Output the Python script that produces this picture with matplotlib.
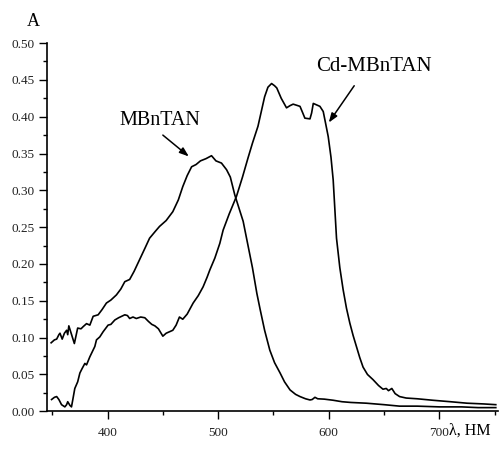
import matplotlib
matplotlib.use("Agg")
import matplotlib.pyplot as plt
from matplotlib.ticker import MultipleLocator, FormatStrFormatter

plt.rcParams['font.family'] = ['Liberation Serif', 'DejaVu Serif']

# MBnTAN spectrum
mb_x = [349, 352, 354, 356, 357, 359, 361, 363, 364, 365, 367.5, 370, 373, 376, 378, 381, 384, 387,
        391.5, 395, 399, 403, 408, 412, 415.6, 420, 424, 429, 434, 438, 443, 447, 453, 459, 464, 468,
        472, 476, 480, 484, 489, 494, 498, 503, 507.6, 511, 515, 519, 522.6, 527, 531, 535, 538, 542,
        546.7, 551, 556, 560, 565, 570, 574, 579, 583, 585, 587.5, 590, 596, 604, 612, 620, 634, 650,
        664, 680, 700, 720, 735, 751]
mb_y = [0.093, 0.097, 0.098, 0.104, 0.106, 0.098, 0.106, 0.110, 0.104, 0.116, 0.104, 0.092, 0.113,
        0.112, 0.115, 0.119, 0.117, 0.129, 0.131, 0.138, 0.147, 0.151, 0.158, 0.166, 0.176, 0.179,
        0.190, 0.206, 0.222, 0.235, 0.244, 0.251, 0.259, 0.271, 0.287, 0.305, 0.320, 0.332, 0.335,
        0.340, 0.343, 0.347, 0.340, 0.337, 0.328, 0.318, 0.294, 0.275, 0.258, 0.225, 0.195, 0.160,
        0.138, 0.110, 0.083, 0.066, 0.052, 0.040, 0.029, 0.023, 0.020, 0.017, 0.0154, 0.016, 0.019,
        0.017, 0.0165, 0.015, 0.013, 0.012, 0.011, 0.009, 0.007, 0.007, 0.006, 0.006, 0.005, 0.005]

# Cd-MBnTAN spectrum
cd_x = [349.4, 352, 354, 356, 358.4, 361.4, 363, 364, 366, 367.4, 368.5, 370.4, 373, 375, 377, 379.5,
        381, 384, 388.5, 390, 393, 396, 400.5, 403, 406.6, 410, 415.6, 418, 420, 423, 426, 430, 433.7,
        437, 440, 442.8, 446, 450, 453, 456, 459, 462, 465, 468, 472, 477.4, 482, 486.4, 490, 492.5,
        497, 501.5, 504.5, 510, 516.6, 522, 527, 531, 536, 539, 542, 545, 548.3, 551, 553, 557, 561.8,
        565, 567.8, 572, 574, 576.5, 578.4, 583, 584.5, 586, 589, 592, 595, 597, 599.5, 602, 604, 607,
        610, 613, 616, 619, 622, 625, 628, 631, 635, 640, 645, 649, 652, 654, 657, 660, 664, 670, 680,
        694, 710, 725, 740, 751]
cd_y = [0.016, 0.019, 0.020, 0.016, 0.009, 0.006, 0.009, 0.013, 0.008, 0.006, 0.015, 0.031, 0.040,
        0.052, 0.058, 0.065, 0.063, 0.074, 0.088, 0.097, 0.101, 0.108, 0.117, 0.118, 0.124, 0.127,
        0.131, 0.130, 0.126, 0.128, 0.126, 0.128, 0.127, 0.122, 0.118, 0.116, 0.112, 0.102, 0.106,
        0.108, 0.110, 0.117, 0.128, 0.125, 0.132, 0.147, 0.157, 0.169, 0.182, 0.192, 0.208, 0.228,
        0.246, 0.268, 0.292, 0.318, 0.344, 0.364, 0.387, 0.407, 0.427, 0.440, 0.445, 0.442, 0.439,
        0.425, 0.412, 0.415, 0.417, 0.415, 0.414, 0.405, 0.398, 0.397, 0.405, 0.418, 0.416, 0.414,
        0.407, 0.392, 0.373, 0.345, 0.314, 0.235, 0.195, 0.165, 0.140, 0.120, 0.103, 0.088, 0.073,
        0.060, 0.050, 0.043, 0.035, 0.030, 0.031, 0.028, 0.031, 0.024, 0.020, 0.018, 0.017, 0.015,
        0.013, 0.011, 0.010, 0.009]

labels = ["MBnTAN", "Cd-MBnTAN"]

fig = plt.figure(figsize=(4.99, 4.5), dpi=100)
ax = fig.add_axes([0.0936, 0.086, 0.9044, 0.8184])

ax.plot(mb_x, mb_y, color='black', lw=1.2)
ax.plot(cd_x, cd_y, color='black', lw=1.2)

ax.set_xlim(345, 753)
ax.set_ylim(0, 0.5)
ax.spines['top'].set_visible(False)
ax.spines['right'].set_visible(False)
for s in ('left', 'bottom'):
    ax.spines[s].set_linewidth(1.2)

ax.xaxis.set_major_locator(MultipleLocator(100))
ax.xaxis.set_minor_locator(MultipleLocator(50))
ax.yaxis.set_major_locator(MultipleLocator(0.05))
ax.yaxis.set_minor_locator(MultipleLocator(0.025))
ax.yaxis.set_major_formatter(FormatStrFormatter('%.2f'))
ax.tick_params(which='major', direction='out', length=5.5, width=1, labelsize=9.5, pad=3)
ax.tick_params(which='minor', direction='out', length=3, width=1)
ax.tick_params(axis='x', pad=6)
for t in ax.get_xticklabels() + ax.get_yticklabels():
    t.set_color('#222222')

# labels and arrows
arrow = dict(arrowstyle='-|>,head_length=0.55,head_width=0.2', color='black', lw=1.1,
             shrinkA=0, shrinkB=0)
ax.text(447, 0.395, labels[0], ha='center', va='center', fontsize=14.5)
ax.annotate('', xy=(473.5, 0.346), xytext=(450, 0.375), arrowprops=arrow)
ax.text(641, 0.468, labels[1], ha='center', va='center', fontsize=15)
ax.annotate('', xy=(600, 0.392), xytext=(623, 0.442), arrowprops=arrow)

fig.text(0.066, 0.953, "A", fontsize=13, ha='center', va='center')
fig.text(0.90, 0.043, "λ, НМ", fontsize=11.5, ha='left', va='center')

fig.savefig("out.png", dpi=100)
